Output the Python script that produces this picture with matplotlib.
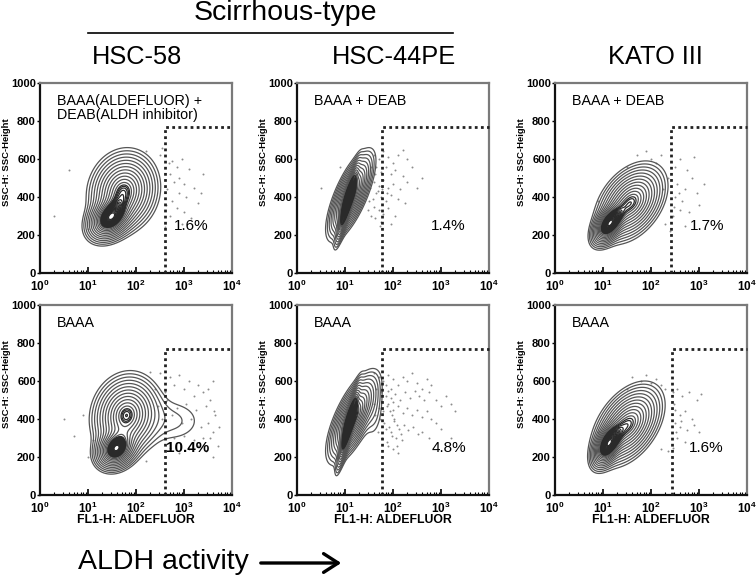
import numpy as np
import matplotlib
matplotlib.use("Agg")
import matplotlib.pyplot as plt
import matplotlib.patches as mpatches

plt.rcParams['font.family'] = ['Liberation Sans', 'DejaVu Sans']
plt.rcParams['mathtext.fontset'] = 'custom'
plt.rcParams['mathtext.rm'] = 'Liberation Sans:bold'
plt.rcParams['mathtext.it'] = 'Liberation Sans:bold'
plt.rcParams['mathtext.bf'] = 'Liberation Sans:bold'

# ---- data ----
cell_lines = ["HSC-58", "HSC-44PE", "KATO III"]
row_labels = [["BAAA(ALDEFLUOR) +\nDEAB(ALDH inhibitor)", "BAAA + DEAB", "BAAA + DEAB"],
              ["BAAA", "BAAA", "BAAA"]]
percents = [["1.6%", "1.4%", "1.7%"], ["10.4%", "4.8%", "1.6%"]]
gate_x = [[410, 58, 257], [400, 60, 270]]
gate_y = 770
x_ticks = [1, 10, 100, 1000, 10000]
x_ticklabels = [r"$10^{0}$", r"$10^{1}$", r"$10^{2}$", r"$10^{3}$", r"$10^{4}$"]
y_ticks = [0, 200, 400, 600, 800, 1000]

# population components: (mean log10 FL1, mean SSC, sd log10 FL1, sd SSC, correlation, weight)
pop_A1 = [(1.74, 430, 0.31, 92, 0.1, 1.0), (1.45, 285, 0.22, 55, 0.3, 1.2)]
pop_A2 = [(1.12, 410, 0.21, 100, 0.72, 1.0), (1.05, 370, 0.1, 90, 0.9, 1.5)]
pop_A3 = [(1.58, 370, 0.31, 88, 0.4, 1.0), (1.12, 255, 0.16, 50, 0.5, 1.3)]
pop_B1 = [(1.8, 420, 0.31, 94, 0.1, 1.0), (1.58, 240, 0.2, 50, 0.2, 1.2), (2.75, 390, 0.45, 80, 0.0, 0.075)]
pop_B2 = [(1.17, 410, 0.23, 102, 0.7, 1.0), (1.07, 360, 0.1, 95, 0.9, 1.5), (1.62, 430, 0.12, 90, 0.3, 0.07)]
pop_B3 = [(1.52, 370, 0.31, 92, 0.45, 1.0), (1.1, 265, 0.15, 55, 0.5, 1.3)]

# scattered events (log10 FL1, SSC)
dots_A1_lx = [2.75, 2.85, 2.95, 3.1, 2.7, 2.8, 3.0, 3.2, 2.65, 2.9, 3.05, 2.75, 3.3, 2.85, 3.0, 2.7, 3.15, 2.95, 0.3, 0.6, 2.5, 2.6, 3.4, 2.55, 1.0, 2.2, 2.62, 2.68, 3.35, 2.9]
dots_A1_y = [590, 560, 600, 550, 520, 480, 470, 450, 440, 420, 400, 380, 370, 340, 320, 300, 290, 260, 300, 540, 620, 240, 520, 660, 230, 640, 360, 580, 420, 500]
dots_A2_lx = [1.6, 1.7, 1.8, 1.9, 2.0, 2.1, 2.3, 1.65, 1.75, 1.85, 1.95, 2.05, 2.2, 2.4, 1.6, 1.7, 1.8, 1.9, 2.0, 2.15, 2.3, 2.5, 1.65, 1.75, 1.85, 1.95, 2.1, 2.25, 1.6, 1.7, 1.8, 1.9, 2.05, 1.75, 1.95, 2.6, 1.55, 0.5, 0.9, 2.2, 1.62, 1.68, 1.58, 1.72, 1.52, 1.5, 1.55, 1.48, 1.63, 1.78, 1.88]
dots_A2_y = [620, 600, 640, 610, 580, 620, 600, 560, 530, 560, 520, 540, 510, 560, 480, 460, 490, 450, 470, 440, 480, 450, 420, 400, 380, 410, 390, 370, 350, 330, 310, 340, 300, 270, 260, 500, 300, 450, 560, 650, 520, 430, 390, 250, 450, 380, 560, 330, 290, 440, 420]
dots_A3_lx = [2.5, 2.6, 2.75, 2.9, 2.55, 2.7, 2.85, 2.5, 2.65, 2.95, 2.6, 2.8, 2.45, 3.0, 1.7, 1.9, 2.0, 2.1, 2.2, 1.5, 0.9, 0.8, 2.3, 2.4, 2.7, 3.1, 2.48, 2.58, 2.35, 2.25]
dots_A3_y = [560, 600, 540, 610, 470, 440, 500, 400, 380, 420, 330, 320, 300, 360, 620, 640, 600, 580, 620, 560, 380, 250, 260, 220, 250, 470, 350, 420, 500, 440]
dots_B1_lx = [2.3, 2.5, 2.7, 2.9, 3.1, 3.3, 3.5, 3.6, 2.4, 2.6, 2.8, 3.0, 3.2, 3.4, 3.55, 2.45, 2.65, 2.85, 3.05, 3.25, 3.45, 3.62, 2.55, 2.75, 2.95, 3.15, 3.35, 3.5, 2.6, 2.8, 3.0, 3.2, 3.4, 2.7, 2.9, 3.1, 3.3, 0.5, 0.7, 1.0, 2.2, 3.6, 3.7, 3.45, 3.65, 3.55, 3.72, 3.6, 0.9, 1.1]
dots_B1_y = [650, 640, 620, 630, 600, 580, 560, 600, 560, 540, 580, 560, 520, 540, 500, 470, 500, 460, 480, 450, 470, 440, 400, 420, 380, 400, 360, 380, 330, 300, 310, 290, 300, 250, 220, 240, 260, 400, 310, 200, 180, 330, 260, 230, 420, 300, 360, 200, 420, 290]
dots_B2_lx = [1.6, 1.7, 1.8, 1.9, 2.0, 2.1, 2.2, 2.3, 2.4, 2.5, 2.6, 2.7, 2.8, 1.65, 1.75, 1.85, 1.95, 2.05, 2.15, 2.25, 2.35, 2.45, 2.55, 2.65, 2.75, 2.9, 3.0, 3.1, 3.2, 3.3, 1.6, 1.7, 1.8, 1.9, 2.0, 2.1, 2.2, 2.3, 2.4, 2.5, 2.6, 2.7, 2.8, 2.9, 1.62, 1.72, 1.82, 1.92, 2.02, 2.12, 2.22, 2.32, 2.42, 2.52, 1.68, 1.78, 1.88, 1.98, 2.08, 2.18, 2.6, 2.75, 3.0, 3.2,
               1.85, 1.9, 1.95, 2.0, 1.88, 1.93, 1.98, 2.03, 2.08, 1.86, 1.96, 2.06, 2.16, 1.9, 2.0, 2.1]
dots_B2_y = [640, 620, 600, 630, 610, 580, 620, 600, 640, 590, 560, 610, 580, 560, 540, 520, 560, 530, 500, 540, 510, 550, 520, 500, 540, 500, 470, 520, 480, 440, 480, 460, 440, 480, 450, 470, 430, 460, 420, 450, 410, 440, 400, 380, 420, 400, 380, 360, 390, 350, 370, 340, 360, 320, 330, 300, 280, 310, 260, 290, 330, 300, 350, 300,
             580, 550, 510, 490, 470, 440, 420, 400, 370, 350, 330, 300, 320, 260, 240, 220]
dots_B3_lx = [1.6, 1.8, 1.9, 2.0, 2.1, 2.2, 2.3, 2.45, 2.55, 2.65, 2.8, 2.95, 3.05, 2.5, 2.6, 2.7, 2.85, 2.5, 2.6, 2.75, 2.9, 3.0, 2.55, 2.7, 2.45, 0.9, 1.2, 2.2, 2.35, 1.5, 2.48, 2.52, 2.62]
dots_B3_y = [620, 600, 630, 590, 610, 580, 560, 540, 560, 520, 540, 500, 530, 450, 420, 440, 400, 380, 360, 340, 370, 330, 300, 280, 250, 330, 210, 240, 230, 560, 480, 330, 390]

pops = [[pop_A1, pop_A2, pop_A3], [pop_B1, pop_B2, pop_B3]]
dots = [[(dots_A1_lx, dots_A1_y), (dots_A2_lx, dots_A2_y), (dots_A3_lx, dots_A3_y)],
        [(dots_B1_lx, dots_B1_y), (dots_B2_lx, dots_B2_y), (dots_B3_lx, dots_B3_y)]]

# ---- figure ----
W, H = 756, 579
fig = plt.figure(figsize=(W / 100, H / 100), dpi=100)

col_left = [40, 297, 555]
row_top = [83, 305]
ax_w, ax_h = 192, 190

lx = np.linspace(0, 4, 400)
yy = np.linspace(0, 1000, 400)
LX, YY = np.meshgrid(lx, yy)


def density(comps):
    z = np.zeros_like(LX)
    for mx, my, sx, sy, r, w in comps:
        dx = (LX - mx) / sx
        dy = (YY - my) / sy
        q = (dx * dx - 2 * r * dx * dy + dy * dy) / (1 - r * r)
        z += w * np.exp(-0.5 * q)
    return z


ring_r = np.linspace(0.5, 2.5, 12)
base_levels = np.sort(np.exp(-0.5 * ring_r ** 2))

for r in range(2):
    for c in range(3):
        l = col_left[c] / W
        b = 1 - (row_top[r] + ax_h) / H
        ax = fig.add_axes([l, b, ax_w / W, ax_h / H])
        ax.set_xscale('log')
        ax.set_xlim(1, 10000)
        ax.set_ylim(0, 1000)

        dlx, dy = dots[r][c]
        ax.scatter(10 ** np.array(dlx), dy, s=2.0, color='#8c8c8c', linewidths=0, zorder=1)

        z = density(pops[r][c])
        zmax = z.max()
        upper = np.linspace(base_levels[-1] + 0.06, zmax * 0.97, 18)
        ax.contour(10 ** LX, YY, z, levels=base_levels, colors='#555555', linewidths=0.9, zorder=2)
        ax.contour(10 ** LX, YY, z, levels=upper, colors='#2a2a2a', linewidths=0.9, zorder=2)

        g = gate_x[r][c]
        ax.plot([g, g, 10000], [0, gate_y, gate_y], linestyle=(0, (1, 1.2)), color='#222222',
                linewidth=2.0, zorder=3, clip_on=False)

        ax.text(0.09, 0.94, row_labels[r][c], transform=ax.transAxes, fontsize=10.3,
                va='top', ha='left', linespacing=1.0)
        ax.text(0.88, 0.245, percents[r][c], transform=ax.transAxes, fontsize=11,
                ha='right', va='center', fontweight='bold' if percents[r][c] == "10.4%" else 'normal')

        ax.set_xticks(x_ticks)
        ax.set_xticklabels(x_ticklabels)
        ax.set_yticks(y_ticks)
        ax.set_yticklabels([str(v) for v in y_ticks])
        ax.tick_params(axis='x', which='major', direction='in', length=4, width=1.2, labelsize=8.5, pad=4)
        ax.tick_params(axis='x', which='minor', direction='in', length=2, width=0.8)
        ax.tick_params(axis='y', which='major', direction='out', length=2, width=1, labelsize=8, pad=1)
        for lab in ax.get_yticklabels():
            lab.set_fontweight('bold')
        for side in ['left', 'bottom']:
            ax.spines[side].set_linewidth(1.6)
            ax.spines[side].set_color('#111111')
        for side in ['top', 'right']:
            ax.spines[side].set_linewidth(1.6)
            ax.spines[side].set_color('#7a7a7a')
        ax.set_ylabel("SSC-H: SSC-Height", fontsize=6.8, fontweight='bold')
        ax.yaxis.set_label_coords(-0.15, 0.585)
        if r == 1:
            ax.set_xlabel("FL1-H: ALDEFLUOR", fontsize=8.8, fontweight='bold', labelpad=-1)

# headers
fig.text(0.377, 1 - 13 / H, "Scirrhous-type", fontsize=20.5, ha='center', va='center')
fig.add_artist(plt.Line2D([88 / W, 453 / W], [1 - 33 / H, 1 - 33 / H], color='black', linewidth=1.2))
for c, name in enumerate(cell_lines):
    cx = (col_left[c] + ax_w / 2 + (4 if c == 2 else 1)) / W
    fig.text(cx, 1 - 57 / H, name, fontsize=18.3, ha='center', va='center')

fig.text(78 / W, 1 - 562 / H, "ALDH activity", fontsize=20.5, ha='left', va='center')
fig.add_artist(mpatches.FancyArrowPatch((258 / W, 1 - 563 / H), (344 / W, 1 - 563 / H),
                                        transform=fig.transFigure, arrowstyle='->,head_length=7,head_width=4.5',
                                        color='black', linewidth=2.4, mutation_scale=1.5))

fig.savefig("out.png", dpi=100)
